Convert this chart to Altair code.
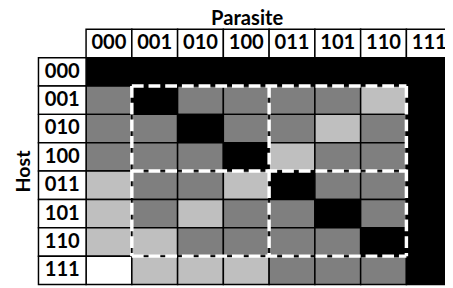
import altair as alt
import pandas as pd

# ---- data -------------------------------------------------------------
parasites = ["000", "001", "010", "100", "011", "101", "110", "111"]
hosts = ["000", "001", "010", "100", "011", "101", "110", "111"]

# shade level per cell: 0 = white, 1 = light grey, 2 = dark grey, 3 = black
row_000 = [3, 3, 3, 3, 3, 3, 3, 3]
row_001 = [2, 3, 2, 2, 2, 2, 1, 3]
row_010 = [2, 2, 3, 2, 2, 1, 2, 3]
row_100 = [2, 2, 2, 3, 1, 2, 2, 3]
row_011 = [1, 2, 2, 1, 3, 2, 2, 3]
row_101 = [1, 2, 1, 2, 2, 3, 2, 3]
row_110 = [1, 1, 2, 2, 2, 2, 3, 3]
row_111 = [0, 1, 1, 1, 2, 2, 2, 3]
matrix = [row_000, row_001, row_010, row_100, row_011, row_101, row_110, row_111]

levels = [0, 1, 2, 3]
level_colors = ["#ffffff", "#bfbfbf", "#7f7f7f", "#000000"]

# dashed blocks (groups of genotypes)
groups = [["001", "010", "100"], ["011", "101", "110"]]

# ---- tables -----------------------------------------------------------
cells = pd.DataFrame(
    [
        {"host": h, "parasite": p, "col": i, "col_end": i + 1,
         "row": j, "row_end": j + 1, "level": matrix[j][i]}
        for j, h in enumerate(hosts)
        for i, p in enumerate(parasites)
    ]
)

LABEL_W = 1.04
col_heads = pd.DataFrame(
    [{"label": p, "col": i, "col_end": i + 1, "mid": i + 0.5,
      "row": -1, "row_end": 0, "rmid": -0.5} for i, p in enumerate(parasites)]
)
row_heads = pd.DataFrame(
    [{"label": h, "col": -LABEL_W, "col_end": 0, "mid": -LABEL_W / 2,
      "row": j, "row_end": j + 1, "rmid": j + 0.5} for j, h in enumerate(hosts)]
)
heads = pd.concat([col_heads, row_heads], ignore_index=True)

# block boundaries in index space
bounds = sorted({parasites.index(g[0]) for g in groups} |
                {parasites.index(g[-1]) + 1 for g in groups})
lo, hi = bounds[0], bounds[-1]
segs = []
for b in bounds:
    segs.append({"x1": b, "x2": b, "y1": lo, "y2": hi})
    segs.append({"x1": lo, "x2": hi, "y1": b, "y2": b})
segs = pd.DataFrame(segs)

# ---- scales / axes ----------------------------------------------------
PLOT_W = 365.5
COL_PX = 46.6
xscale = alt.Scale(domain=[0, PLOT_W / COL_PX], nice=False, zero=False)
yscale = alt.Scale(domain=[0, 8], reverse=True, nice=False, zero=False)

FONT = "Lato"

xaxis = alt.Axis(orient="top", labels=False, ticks=False, domain=False, grid=False,
                 title="Parasite", titleX=163.5, titleY=-34, titleFont=FONT,
                 titleFontSize=20.5, titleFontWeight="bold", titleColor="black",
                 titleBaseline="alphabetic", titleAlign="center")
yaxis = alt.Axis(orient="left", labels=False, ticks=False, domain=False, grid=False,
                 title="Host", titleX=-64, titleY=115.5, titleAngle=270, titleFont=FONT,
                 titleFontSize=20, titleFontWeight="bold", titleColor="black",
                 titleBaseline="middle", titleAlign="center")

heat = alt.Chart(cells).mark_rect(stroke="black", strokeWidth=1.5).encode(
    x=alt.X("col:Q", scale=xscale, axis=xaxis, title="Parasite"),
    x2="col_end:Q",
    y=alt.Y("row:Q", scale=yscale, axis=yaxis, title="Host"),
    y2="row_end:Q",
    color=alt.Color("level:O", scale=alt.Scale(domain=levels, range=level_colors), legend=None),
)

boxes = alt.Chart(heads).mark_rect(fill="white", stroke="black", strokeWidth=1.5).encode(
    x=alt.X("col:Q", scale=xscale, axis=xaxis, title="Parasite"),
    x2="col_end:Q",
    y=alt.Y("row:Q", scale=yscale, axis=yaxis, title="Host"),
    y2="row_end:Q",
)
labels = alt.Chart(heads).mark_text(font=FONT, fontSize=20.5, fontWeight="bold",
                                    color="black", baseline="middle", align="center").encode(
    x=alt.X("mid:Q", scale=xscale, axis=xaxis, title="Parasite"),
    y=alt.Y("rmid:Q", scale=yscale, axis=yaxis, title="Host"),
    text="label:N",
)

dashes = alt.Chart(segs).mark_rule(color="white", strokeWidth=3.5,
                                   strokeDash=[12, 5], strokeCap="butt").encode(
    x=alt.X("x1:Q", scale=xscale, axis=xaxis, title="Parasite"),
    x2="x2:Q",
    y=alt.Y("y1:Q", scale=yscale, axis=yaxis, title="Host"),
    y2="y2:Q",
)

chart = alt.layer(heat, boxes, labels, dashes).properties(
    width=PLOT_W,
    height=231,
    autosize=alt.AutoSizeParams(type="none"),
    padding={"left": 79.5, "top": 48, "right": 0, "bottom": 1},
).configure_view(stroke="transparent")

chart.save("out.html", embed_options={"renderer": "svg", "actions": False})
